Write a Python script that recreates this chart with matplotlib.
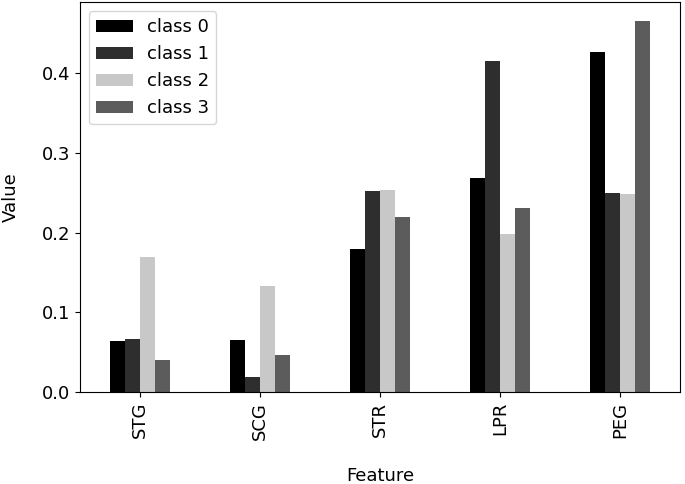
import numpy as np
import matplotlib
matplotlib.use("Agg")
import matplotlib.pyplot as plt

features = ["STG", "SCG", "STR", "LPR", "PEG"]
classes = ["class 0", "class 1", "class 2", "class 3"]
class0 = [0.064, 0.065, 0.180, 0.269, 0.427]
class1 = [0.066, 0.019, 0.252, 0.415, 0.250]
class2 = [0.170, 0.133, 0.253, 0.198, 0.248]
class3 = [0.040, 0.046, 0.220, 0.231, 0.466]
colors = ["#000000", "#2e2e2e", "#c8c8c8", "#5c5c5c"]

plt.rcParams["font.size"] = 13

fig = plt.figure(figsize=(6.85, 4.84), dpi=100)
ax = fig.add_axes([0.117, 0.19, 0.876, 0.806])

x = np.arange(len(features))
w = 0.125
for i, vals in enumerate([class0, class1, class2, class3]):
    ax.bar(x + (i - 1.5) * w, vals, w, color=colors[i], label=classes[i])

ax.set_xticks(x)
ax.set_xticklabels(features, rotation=90)
ax.set_xlim(-0.5, 4.5)
ax.set_xlabel("Feature")
ax.set_ylabel("Value")
ax.xaxis.set_label_coords(0.5, -0.193)
ax.yaxis.set_label_coords(-0.1, 0.5)
ax.legend(loc="upper left")

fig.savefig("out.png")
